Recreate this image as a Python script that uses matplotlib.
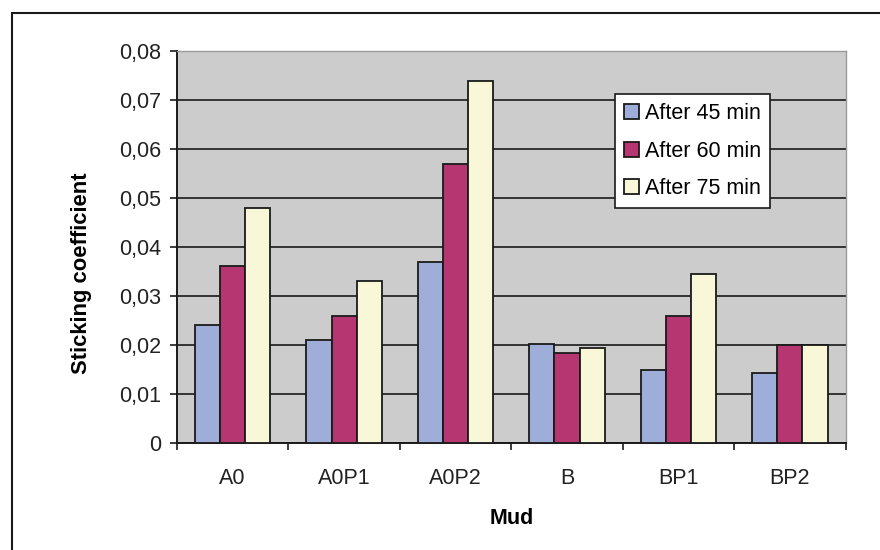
import numpy as np
import matplotlib
matplotlib.use('Agg')
import matplotlib.pyplot as plt
from matplotlib.ticker import FuncFormatter, FixedLocator
from matplotlib.patches import Rectangle

plt.rcParams['font.family'] = ['Liberation Sans', 'DejaVu Sans']

muds = ['A0', 'A0P1', 'A0P2', 'B', 'BP1', 'BP2']
after_45 = [0.024, 0.021, 0.037, 0.0203, 0.015, 0.0142]
after_60 = [0.0362, 0.026, 0.057, 0.0183, 0.026, 0.020]
after_75 = [0.048, 0.033, 0.074, 0.0195, 0.0345, 0.020]
series = ['After 45 min', 'After 60 min', 'After 75 min']
colors = ['#9eaed8', '#b63672', '#f8f7d8']

fs = 15.5
fig = plt.figure(figsize=(8.8, 5.5), dpi=100)
ax = fig.add_axes([0.201, 0.1945, 0.76, 0.7125])
ax.set_facecolor('#cccccc')

x = np.arange(len(muds))
w = 0.225
for i, (vals, lab) in enumerate(zip([after_45, after_60, after_75], series)):
    ax.bar(x + (i - 1) * w, vals, w, color=colors[i], edgecolor='#1a1a1a',
           linewidth=1.3, label=lab, zorder=3)

ax.set_xlim(-0.5, len(muds) - 0.5)
ax.set_ylim(0, 0.08)
ax.set_yticks(np.arange(0, 0.081, 0.01))
ax.yaxis.set_major_formatter(FuncFormatter(lambda v, p: '0' if v == 0 else f'{v:.2f}'.replace('.', ',')))
ax.grid(axis='y', color='#1a1a1a', linewidth=1.2, zorder=1)
ax.set_axisbelow(True)

ax.set_xticks(x)
ax.set_xticklabels(muds)
ax.xaxis.set_minor_locator(FixedLocator(np.arange(-0.5, len(muds), 1.0)))
ax.tick_params(axis='x', which='major', length=0, pad=18, labelsize=fs, colors='#222222')
ax.tick_params(axis='x', which='minor', length=5, width=1.2, color='#1a1a1a', direction='out')
ax.tick_params(axis='y', length=5, width=1.2, color='#1a1a1a', labelsize=fs, pad=6, labelcolor='#222222')

for s in ['top', 'right']:
    ax.spines[s].set_color('#999999')
    ax.spines[s].set_linewidth(1.0)
for s in ['left', 'bottom']:
    ax.spines[s].set_color('#1a1a1a')
    ax.spines[s].set_linewidth(1.4)

ax.set_ylabel('Sticking coefficient', fontsize=15.8, fontweight='bold')
ax.yaxis.set_label_coords(-0.127, 0.434)
ax.set_xlabel('Mud', fontsize=fs, fontweight='bold', labelpad=14)

leg = ax.legend(loc='upper left', bbox_to_anchor=(0.655, 0.890), fontsize=fs,
                frameon=True, fancybox=False, handlelength=0.7, handleheight=0.7,
                handletextpad=0.3, borderpad=0.4, labelspacing=0.78, borderaxespad=0)
leg.get_frame().set_edgecolor('#1a1a1a')
leg.get_frame().set_linewidth(1.2)
leg.get_frame().set_facecolor('white')
leg.get_frame().set_alpha(1)
leg.set_zorder(5)

# outer chart border (only left and top edges fall inside the image)
fig.patches.append(Rectangle((12 / 880, -0.05), 1.2, 1 - 13 / 550 + 0.05,
                             transform=fig.transFigure, fill=False,
                             edgecolor='#1a1a1a', linewidth=1.5))

fig.savefig('out.png', dpi=100)
